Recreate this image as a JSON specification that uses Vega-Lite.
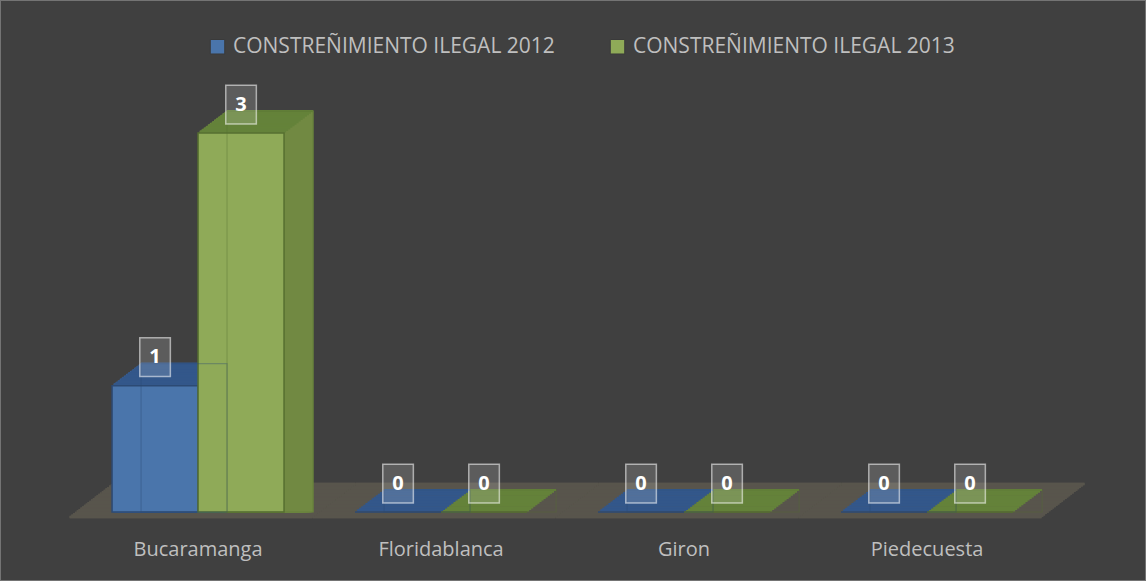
{
  "$schema": "https://vega.github.io/schema/vega-lite/v6.json",
  "width": 1146,
  "height": 581,
  "autosize": "none",
  "padding": 0,
  "background": "#404040",
  "config": {
    "view": {"stroke": "#747474", "strokeWidth": 2},
    "font": "Open Sans",
    "style": {
      "floor": {"strokeWidth": 2.4},
      "side": {"strokeWidth": 1.2},
      "topface": {"strokeWidth": 2.2}
    }
  },
  "data": {
    "values": [
      {"Municipio": "Bucaramanga", "Serie": "CONSTREÑIMIENTO ILEGAL  2012", "Valor": 1},
      {"Municipio": "Bucaramanga", "Serie": "CONSTREÑIMIENTO ILEGAL  2013", "Valor": 3},
      {"Municipio": "Floridablanca", "Serie": "CONSTREÑIMIENTO ILEGAL  2012", "Valor": 0},
      {"Municipio": "Floridablanca", "Serie": "CONSTREÑIMIENTO ILEGAL  2013", "Valor": 0},
      {"Municipio": "Giron", "Serie": "CONSTREÑIMIENTO ILEGAL  2012", "Valor": 0},
      {"Municipio": "Giron", "Serie": "CONSTREÑIMIENTO ILEGAL  2013", "Valor": 0},
      {"Municipio": "Piedecuesta", "Serie": "CONSTREÑIMIENTO ILEGAL  2012", "Valor": 0},
      {"Municipio": "Piedecuesta", "Serie": "CONSTREÑIMIENTO ILEGAL  2013", "Valor": 0}
    ]
  },
  "encoding": {
    "x": {
      "field": "Municipio",
      "type": "nominal",
      "sort": null,
      "scale": {"type": "band", "paddingInner": 0, "paddingOuter": 0.358, "align": 0.44},
      "axis": {"title": null, "orient": "bottom", "offset": -42, "domain": false, "ticks": false, "labelPadding": 0, "labelAngle": 0, "labelFont": "Open Sans", "labelFontSize": 20, "labelColor": "#BFBFBF"}
    }
  },
  "layer": [
    {"mark": {"type": "bar", "style": "floor", "fill": "#58554C", "stroke": "#58554C", "xOffset": -7, "yOffset": 5, "y2Offset": 5}, "encoding": {"y": {"datum": 0, "type": "quantitative", "scale": {"domain": [-0.546, 4.053], "nice": false, "zero": false}, "axis": null}, "y2": {"datum": 0}}},
    {"mark": {"type": "bar", "style": "floor", "fill": "#58554C", "stroke": "#58554C", "xOffset": -5.21, "yOffset": 3.63, "y2Offset": 3.63}, "encoding": {"y": {"datum": 0, "type": "quantitative"}, "y2": {"datum": 0}}},
    {"mark": {"type": "bar", "style": "floor", "fill": "#58554C", "stroke": "#58554C", "xOffset": -3.42, "yOffset": 2.25, "y2Offset": 2.25}, "encoding": {"y": {"datum": 0, "type": "quantitative"}, "y2": {"datum": 0}}},
    {"mark": {"type": "bar", "style": "floor", "fill": "#58554C", "stroke": "#58554C", "xOffset": -1.63, "yOffset": 0.88, "y2Offset": 0.88}, "encoding": {"y": {"datum": 0, "type": "quantitative"}, "y2": {"datum": 0}}},
    {"mark": {"type": "bar", "style": "floor", "fill": "#58554C", "stroke": "#58554C", "xOffset": 0.17, "yOffset": -0.5, "y2Offset": -0.5}, "encoding": {"y": {"datum": 0, "type": "quantitative"}, "y2": {"datum": 0}}},
    {"mark": {"type": "bar", "style": "floor", "fill": "#58554C", "stroke": "#58554C", "xOffset": 1.96, "yOffset": -1.88, "y2Offset": -1.88}, "encoding": {"y": {"datum": 0, "type": "quantitative"}, "y2": {"datum": 0}}},
    {"mark": {"type": "bar", "style": "floor", "fill": "#58554C", "stroke": "#58554C", "xOffset": 3.75, "yOffset": -3.25, "y2Offset": -3.25}, "encoding": {"y": {"datum": 0, "type": "quantitative"}, "y2": {"datum": 0}}},
    {"mark": {"type": "bar", "style": "floor", "fill": "#58554C", "stroke": "#58554C", "xOffset": 5.54, "yOffset": -4.63, "y2Offset": -4.63}, "encoding": {"y": {"datum": 0, "type": "quantitative"}, "y2": {"datum": 0}}},
    {"mark": {"type": "bar", "style": "floor", "fill": "#58554C", "stroke": "#58554C", "xOffset": 7.33, "yOffset": -6, "y2Offset": -6}, "encoding": {"y": {"datum": 0, "type": "quantitative"}, "y2": {"datum": 0}}},
    {"mark": {"type": "bar", "style": "floor", "fill": "#58554C", "stroke": "#58554C", "xOffset": 9.13, "yOffset": -7.38, "y2Offset": -7.38}, "encoding": {"y": {"datum": 0, "type": "quantitative"}, "y2": {"datum": 0}}},
    {"mark": {"type": "bar", "style": "floor", "fill": "#58554C", "stroke": "#58554C", "xOffset": 10.92, "yOffset": -8.75, "y2Offset": -8.75}, "encoding": {"y": {"datum": 0, "type": "quantitative"}, "y2": {"datum": 0}}},
    {"mark": {"type": "bar", "style": "floor", "fill": "#58554C", "stroke": "#58554C", "xOffset": 12.71, "yOffset": -10.13, "y2Offset": -10.13}, "encoding": {"y": {"datum": 0, "type": "quantitative"}, "y2": {"datum": 0}}},
    {"mark": {"type": "bar", "style": "floor", "fill": "#58554C", "stroke": "#58554C", "xOffset": 14.5, "yOffset": -11.5, "y2Offset": -11.5}, "encoding": {"y": {"datum": 0, "type": "quantitative"}, "y2": {"datum": 0}}},
    {"mark": {"type": "bar", "style": "floor", "fill": "#58554C", "stroke": "#58554C", "xOffset": 16.29, "yOffset": -12.88, "y2Offset": -12.88}, "encoding": {"y": {"datum": 0, "type": "quantitative"}, "y2": {"datum": 0}}},
    {"mark": {"type": "bar", "style": "floor", "fill": "#58554C", "stroke": "#58554C", "xOffset": 18.08, "yOffset": -14.25, "y2Offset": -14.25}, "encoding": {"y": {"datum": 0, "type": "quantitative"}, "y2": {"datum": 0}}},
    {"mark": {"type": "bar", "style": "floor", "fill": "#58554C", "stroke": "#58554C", "xOffset": 19.88, "yOffset": -15.63, "y2Offset": -15.63}, "encoding": {"y": {"datum": 0, "type": "quantitative"}, "y2": {"datum": 0}}},
    {"mark": {"type": "bar", "style": "floor", "fill": "#58554C", "stroke": "#58554C", "xOffset": 21.67, "yOffset": -17, "y2Offset": -17}, "encoding": {"y": {"datum": 0, "type": "quantitative"}, "y2": {"datum": 0}}},
    {"mark": {"type": "bar", "style": "floor", "fill": "#58554C", "stroke": "#58554C", "xOffset": 23.46, "yOffset": -18.38, "y2Offset": -18.38}, "encoding": {"y": {"datum": 0, "type": "quantitative"}, "y2": {"datum": 0}}},
    {"mark": {"type": "bar", "style": "floor", "fill": "#58554C", "stroke": "#58554C", "xOffset": 25.25, "yOffset": -19.75, "y2Offset": -19.75}, "encoding": {"y": {"datum": 0, "type": "quantitative"}, "y2": {"datum": 0}}},
    {"mark": {"type": "bar", "style": "floor", "fill": "#58554C", "stroke": "#58554C", "xOffset": 27.04, "yOffset": -21.13, "y2Offset": -21.13}, "encoding": {"y": {"datum": 0, "type": "quantitative"}, "y2": {"datum": 0}}},
    {"mark": {"type": "bar", "style": "floor", "fill": "#58554C", "stroke": "#58554C", "xOffset": 28.83, "yOffset": -22.5, "y2Offset": -22.5}, "encoding": {"y": {"datum": 0, "type": "quantitative"}, "y2": {"datum": 0}}},
    {"mark": {"type": "bar", "style": "floor", "fill": "#58554C", "stroke": "#58554C", "xOffset": 30.63, "yOffset": -23.88, "y2Offset": -23.88}, "encoding": {"y": {"datum": 0, "type": "quantitative"}, "y2": {"datum": 0}}},
    {"mark": {"type": "bar", "style": "floor", "fill": "#58554C", "stroke": "#58554C", "xOffset": 32.42, "yOffset": -25.25, "y2Offset": -25.25}, "encoding": {"y": {"datum": 0, "type": "quantitative"}, "y2": {"datum": 0}}},
    {"mark": {"type": "bar", "style": "floor", "fill": "#58554C", "stroke": "#58554C", "xOffset": 34.21, "yOffset": -26.63, "y2Offset": -26.63}, "encoding": {"y": {"datum": 0, "type": "quantitative"}, "y2": {"datum": 0}}},
    {"mark": {"type": "bar", "style": "floor", "fill": "#58554C", "stroke": "#58554C", "xOffset": 36, "yOffset": -28, "y2Offset": -28}, "encoding": {"y": {"datum": 0, "type": "quantitative"}, "y2": {"datum": 0}}},

    {"transform": [{"filter": "datum.Valor > 0"}], "mark": {"type": "bar", "style": "side", "width": {"band": 0.354}, "xOffset": {"expr": "(indexof(datum.Serie,'2012')>=0 ? -43 : 43) + 2.07"}, "yOffset": -1.57, "y2Offset": -1.57}, "encoding": {"y": {"field": "Valor", "type": "quantitative", "stack": null}, "fill": {"condition": {"test": "indexof(datum.Serie,'2012')>=0", "value": "#3D6397"}, "value": "#718942"}, "stroke": {"condition": {"test": "indexof(datum.Serie,'2012')>=0", "value": "#3D6397"}, "value": "#718942"}}},
    {"transform": [{"filter": "datum.Valor > 0"}], "mark": {"type": "bar", "style": "side", "width": {"band": 0.354}, "xOffset": {"expr": "(indexof(datum.Serie,'2012')>=0 ? -43 : 43) + 4.14"}, "yOffset": -3.14, "y2Offset": -3.14}, "encoding": {"y": {"field": "Valor", "type": "quantitative", "stack": null}, "fill": {"condition": {"test": "indexof(datum.Serie,'2012')>=0", "value": "#3D6397"}, "value": "#718942"}, "stroke": {"condition": {"test": "indexof(datum.Serie,'2012')>=0", "value": "#3D6397"}, "value": "#718942"}}},
    {"transform": [{"filter": "datum.Valor > 0"}], "mark": {"type": "bar", "style": "side", "width": {"band": 0.354}, "xOffset": {"expr": "(indexof(datum.Serie,'2012')>=0 ? -43 : 43) + 6.21"}, "yOffset": -4.71, "y2Offset": -4.71}, "encoding": {"y": {"field": "Valor", "type": "quantitative", "stack": null}, "fill": {"condition": {"test": "indexof(datum.Serie,'2012')>=0", "value": "#3D6397"}, "value": "#718942"}, "stroke": {"condition": {"test": "indexof(datum.Serie,'2012')>=0", "value": "#3D6397"}, "value": "#718942"}}},
    {"transform": [{"filter": "datum.Valor > 0"}], "mark": {"type": "bar", "style": "side", "width": {"band": 0.354}, "xOffset": {"expr": "(indexof(datum.Serie,'2012')>=0 ? -43 : 43) + 8.29"}, "yOffset": -6.29, "y2Offset": -6.29}, "encoding": {"y": {"field": "Valor", "type": "quantitative", "stack": null}, "fill": {"condition": {"test": "indexof(datum.Serie,'2012')>=0", "value": "#3D6397"}, "value": "#718942"}, "stroke": {"condition": {"test": "indexof(datum.Serie,'2012')>=0", "value": "#3D6397"}, "value": "#718942"}}},
    {"transform": [{"filter": "datum.Valor > 0"}], "mark": {"type": "bar", "style": "side", "width": {"band": 0.354}, "xOffset": {"expr": "(indexof(datum.Serie,'2012')>=0 ? -43 : 43) + 10.36"}, "yOffset": -7.86, "y2Offset": -7.86}, "encoding": {"y": {"field": "Valor", "type": "quantitative", "stack": null}, "fill": {"condition": {"test": "indexof(datum.Serie,'2012')>=0", "value": "#3D6397"}, "value": "#718942"}, "stroke": {"condition": {"test": "indexof(datum.Serie,'2012')>=0", "value": "#3D6397"}, "value": "#718942"}}},
    {"transform": [{"filter": "datum.Valor > 0"}], "mark": {"type": "bar", "style": "side", "width": {"band": 0.354}, "xOffset": {"expr": "(indexof(datum.Serie,'2012')>=0 ? -43 : 43) + 12.43"}, "yOffset": -9.43, "y2Offset": -9.43}, "encoding": {"y": {"field": "Valor", "type": "quantitative", "stack": null}, "fill": {"condition": {"test": "indexof(datum.Serie,'2012')>=0", "value": "#3D6397"}, "value": "#718942"}, "stroke": {"condition": {"test": "indexof(datum.Serie,'2012')>=0", "value": "#3D6397"}, "value": "#718942"}}},
    {"transform": [{"filter": "datum.Valor > 0"}], "mark": {"type": "bar", "style": "side", "width": {"band": 0.354}, "xOffset": {"expr": "(indexof(datum.Serie,'2012')>=0 ? -43 : 43) + 14.5"}, "yOffset": -11, "y2Offset": -11}, "encoding": {"y": {"field": "Valor", "type": "quantitative", "stack": null}, "fill": {"condition": {"test": "indexof(datum.Serie,'2012')>=0", "value": "#3D6397"}, "value": "#718942"}, "stroke": {"condition": {"test": "indexof(datum.Serie,'2012')>=0", "value": "#3D6397"}, "value": "#718942"}}},
    {"transform": [{"filter": "datum.Valor > 0"}], "mark": {"type": "bar", "style": "side", "width": {"band": 0.354}, "xOffset": {"expr": "(indexof(datum.Serie,'2012')>=0 ? -43 : 43) + 16.57"}, "yOffset": -12.57, "y2Offset": -12.57}, "encoding": {"y": {"field": "Valor", "type": "quantitative", "stack": null}, "fill": {"condition": {"test": "indexof(datum.Serie,'2012')>=0", "value": "#3D6397"}, "value": "#718942"}, "stroke": {"condition": {"test": "indexof(datum.Serie,'2012')>=0", "value": "#3D6397"}, "value": "#718942"}}},
    {"transform": [{"filter": "datum.Valor > 0"}], "mark": {"type": "bar", "style": "side", "width": {"band": 0.354}, "xOffset": {"expr": "(indexof(datum.Serie,'2012')>=0 ? -43 : 43) + 18.64"}, "yOffset": -14.14, "y2Offset": -14.14}, "encoding": {"y": {"field": "Valor", "type": "quantitative", "stack": null}, "fill": {"condition": {"test": "indexof(datum.Serie,'2012')>=0", "value": "#3D6397"}, "value": "#718942"}, "stroke": {"condition": {"test": "indexof(datum.Serie,'2012')>=0", "value": "#3D6397"}, "value": "#718942"}}},
    {"transform": [{"filter": "datum.Valor > 0"}], "mark": {"type": "bar", "style": "side", "width": {"band": 0.354}, "xOffset": {"expr": "(indexof(datum.Serie,'2012')>=0 ? -43 : 43) + 20.71"}, "yOffset": -15.71, "y2Offset": -15.71}, "encoding": {"y": {"field": "Valor", "type": "quantitative", "stack": null}, "fill": {"condition": {"test": "indexof(datum.Serie,'2012')>=0", "value": "#3D6397"}, "value": "#718942"}, "stroke": {"condition": {"test": "indexof(datum.Serie,'2012')>=0", "value": "#3D6397"}, "value": "#718942"}}},
    {"transform": [{"filter": "datum.Valor > 0"}], "mark": {"type": "bar", "style": "side", "width": {"band": 0.354}, "xOffset": {"expr": "(indexof(datum.Serie,'2012')>=0 ? -43 : 43) + 22.79"}, "yOffset": -17.29, "y2Offset": -17.29}, "encoding": {"y": {"field": "Valor", "type": "quantitative", "stack": null}, "fill": {"condition": {"test": "indexof(datum.Serie,'2012')>=0", "value": "#3D6397"}, "value": "#718942"}, "stroke": {"condition": {"test": "indexof(datum.Serie,'2012')>=0", "value": "#3D6397"}, "value": "#718942"}}},
    {"transform": [{"filter": "datum.Valor > 0"}], "mark": {"type": "bar", "style": "side", "width": {"band": 0.354}, "xOffset": {"expr": "(indexof(datum.Serie,'2012')>=0 ? -43 : 43) + 24.86"}, "yOffset": -18.86, "y2Offset": -18.86}, "encoding": {"y": {"field": "Valor", "type": "quantitative", "stack": null}, "fill": {"condition": {"test": "indexof(datum.Serie,'2012')>=0", "value": "#3D6397"}, "value": "#718942"}, "stroke": {"condition": {"test": "indexof(datum.Serie,'2012')>=0", "value": "#3D6397"}, "value": "#718942"}}},
    {"transform": [{"filter": "datum.Valor > 0"}], "mark": {"type": "bar", "style": "side", "width": {"band": 0.354}, "xOffset": {"expr": "(indexof(datum.Serie,'2012')>=0 ? -43 : 43) + 26.93"}, "yOffset": -20.43, "y2Offset": -20.43}, "encoding": {"y": {"field": "Valor", "type": "quantitative", "stack": null}, "fill": {"condition": {"test": "indexof(datum.Serie,'2012')>=0", "value": "#3D6397"}, "value": "#718942"}, "stroke": {"condition": {"test": "indexof(datum.Serie,'2012')>=0", "value": "#3D6397"}, "value": "#718942"}}},
    {"transform": [{"filter": "datum.Valor > 0"}], "mark": {"type": "bar", "style": "side", "width": {"band": 0.354}, "xOffset": {"expr": "(indexof(datum.Serie,'2012')>=0 ? -43 : 43) + 29"}, "yOffset": -22, "y2Offset": -22}, "encoding": {"y": {"field": "Valor", "type": "quantitative", "stack": null}, "fill": {"condition": {"test": "indexof(datum.Serie,'2012')>=0", "value": "#3D6397"}, "value": "#718942"}, "stroke": {"condition": {"test": "indexof(datum.Serie,'2012')>=0", "value": "#3D6397"}, "value": "#718942"}}},

    {"mark": {"type": "bar", "style": "topface", "width": {"band": 0.354}, "xOffset": {"expr": "(indexof(datum.Serie,'2012')>=0 ? -43 : 43) + 2.07"}, "yOffset": -1.57, "y2Offset": -1.57}, "encoding": {"y": {"field": "Valor", "type": "quantitative", "stack": null}, "y2": {"field": "Valor"}, "fill": {"condition": {"test": "indexof(datum.Serie,'2012')>=0", "value": "#33578A"}, "value": "#64823A"}, "stroke": {"condition": {"test": "indexof(datum.Serie,'2012')>=0", "value": "#33578A"}, "value": "#64823A"}}},
    {"mark": {"type": "bar", "style": "topface", "width": {"band": 0.354}, "xOffset": {"expr": "(indexof(datum.Serie,'2012')>=0 ? -43 : 43) + 4.14"}, "yOffset": -3.14, "y2Offset": -3.14}, "encoding": {"y": {"field": "Valor", "type": "quantitative", "stack": null}, "y2": {"field": "Valor"}, "fill": {"condition": {"test": "indexof(datum.Serie,'2012')>=0", "value": "#33578A"}, "value": "#64823A"}, "stroke": {"condition": {"test": "indexof(datum.Serie,'2012')>=0", "value": "#33578A"}, "value": "#64823A"}}},
    {"mark": {"type": "bar", "style": "topface", "width": {"band": 0.354}, "xOffset": {"expr": "(indexof(datum.Serie,'2012')>=0 ? -43 : 43) + 6.21"}, "yOffset": -4.71, "y2Offset": -4.71}, "encoding": {"y": {"field": "Valor", "type": "quantitative", "stack": null}, "y2": {"field": "Valor"}, "fill": {"condition": {"test": "indexof(datum.Serie,'2012')>=0", "value": "#33578A"}, "value": "#64823A"}, "stroke": {"condition": {"test": "indexof(datum.Serie,'2012')>=0", "value": "#33578A"}, "value": "#64823A"}}},
    {"mark": {"type": "bar", "style": "topface", "width": {"band": 0.354}, "xOffset": {"expr": "(indexof(datum.Serie,'2012')>=0 ? -43 : 43) + 8.29"}, "yOffset": -6.29, "y2Offset": -6.29}, "encoding": {"y": {"field": "Valor", "type": "quantitative", "stack": null}, "y2": {"field": "Valor"}, "fill": {"condition": {"test": "indexof(datum.Serie,'2012')>=0", "value": "#33578A"}, "value": "#64823A"}, "stroke": {"condition": {"test": "indexof(datum.Serie,'2012')>=0", "value": "#33578A"}, "value": "#64823A"}}},
    {"mark": {"type": "bar", "style": "topface", "width": {"band": 0.354}, "xOffset": {"expr": "(indexof(datum.Serie,'2012')>=0 ? -43 : 43) + 10.36"}, "yOffset": -7.86, "y2Offset": -7.86}, "encoding": {"y": {"field": "Valor", "type": "quantitative", "stack": null}, "y2": {"field": "Valor"}, "fill": {"condition": {"test": "indexof(datum.Serie,'2012')>=0", "value": "#33578A"}, "value": "#64823A"}, "stroke": {"condition": {"test": "indexof(datum.Serie,'2012')>=0", "value": "#33578A"}, "value": "#64823A"}}},
    {"mark": {"type": "bar", "style": "topface", "width": {"band": 0.354}, "xOffset": {"expr": "(indexof(datum.Serie,'2012')>=0 ? -43 : 43) + 12.43"}, "yOffset": -9.43, "y2Offset": -9.43}, "encoding": {"y": {"field": "Valor", "type": "quantitative", "stack": null}, "y2": {"field": "Valor"}, "fill": {"condition": {"test": "indexof(datum.Serie,'2012')>=0", "value": "#33578A"}, "value": "#64823A"}, "stroke": {"condition": {"test": "indexof(datum.Serie,'2012')>=0", "value": "#33578A"}, "value": "#64823A"}}},
    {"mark": {"type": "bar", "style": "topface", "width": {"band": 0.354}, "xOffset": {"expr": "(indexof(datum.Serie,'2012')>=0 ? -43 : 43) + 14.5"}, "yOffset": -11, "y2Offset": -11}, "encoding": {"y": {"field": "Valor", "type": "quantitative", "stack": null}, "y2": {"field": "Valor"}, "fill": {"condition": {"test": "indexof(datum.Serie,'2012')>=0", "value": "#33578A"}, "value": "#64823A"}, "stroke": {"condition": {"test": "indexof(datum.Serie,'2012')>=0", "value": "#33578A"}, "value": "#64823A"}}},
    {"mark": {"type": "bar", "style": "topface", "width": {"band": 0.354}, "xOffset": {"expr": "(indexof(datum.Serie,'2012')>=0 ? -43 : 43) + 16.57"}, "yOffset": -12.57, "y2Offset": -12.57}, "encoding": {"y": {"field": "Valor", "type": "quantitative", "stack": null}, "y2": {"field": "Valor"}, "fill": {"condition": {"test": "indexof(datum.Serie,'2012')>=0", "value": "#33578A"}, "value": "#64823A"}, "stroke": {"condition": {"test": "indexof(datum.Serie,'2012')>=0", "value": "#33578A"}, "value": "#64823A"}}},
    {"mark": {"type": "bar", "style": "topface", "width": {"band": 0.354}, "xOffset": {"expr": "(indexof(datum.Serie,'2012')>=0 ? -43 : 43) + 18.64"}, "yOffset": -14.14, "y2Offset": -14.14}, "encoding": {"y": {"field": "Valor", "type": "quantitative", "stack": null}, "y2": {"field": "Valor"}, "fill": {"condition": {"test": "indexof(datum.Serie,'2012')>=0", "value": "#33578A"}, "value": "#64823A"}, "stroke": {"condition": {"test": "indexof(datum.Serie,'2012')>=0", "value": "#33578A"}, "value": "#64823A"}}},
    {"mark": {"type": "bar", "style": "topface", "width": {"band": 0.354}, "xOffset": {"expr": "(indexof(datum.Serie,'2012')>=0 ? -43 : 43) + 20.71"}, "yOffset": -15.71, "y2Offset": -15.71}, "encoding": {"y": {"field": "Valor", "type": "quantitative", "stack": null}, "y2": {"field": "Valor"}, "fill": {"condition": {"test": "indexof(datum.Serie,'2012')>=0", "value": "#33578A"}, "value": "#64823A"}, "stroke": {"condition": {"test": "indexof(datum.Serie,'2012')>=0", "value": "#33578A"}, "value": "#64823A"}}},
    {"mark": {"type": "bar", "style": "topface", "width": {"band": 0.354}, "xOffset": {"expr": "(indexof(datum.Serie,'2012')>=0 ? -43 : 43) + 22.79"}, "yOffset": -17.29, "y2Offset": -17.29}, "encoding": {"y": {"field": "Valor", "type": "quantitative", "stack": null}, "y2": {"field": "Valor"}, "fill": {"condition": {"test": "indexof(datum.Serie,'2012')>=0", "value": "#33578A"}, "value": "#64823A"}, "stroke": {"condition": {"test": "indexof(datum.Serie,'2012')>=0", "value": "#33578A"}, "value": "#64823A"}}},
    {"mark": {"type": "bar", "style": "topface", "width": {"band": 0.354}, "xOffset": {"expr": "(indexof(datum.Serie,'2012')>=0 ? -43 : 43) + 24.86"}, "yOffset": -18.86, "y2Offset": -18.86}, "encoding": {"y": {"field": "Valor", "type": "quantitative", "stack": null}, "y2": {"field": "Valor"}, "fill": {"condition": {"test": "indexof(datum.Serie,'2012')>=0", "value": "#33578A"}, "value": "#64823A"}, "stroke": {"condition": {"test": "indexof(datum.Serie,'2012')>=0", "value": "#33578A"}, "value": "#64823A"}}},
    {"mark": {"type": "bar", "style": "topface", "width": {"band": 0.354}, "xOffset": {"expr": "(indexof(datum.Serie,'2012')>=0 ? -43 : 43) + 26.93"}, "yOffset": -20.43, "y2Offset": -20.43}, "encoding": {"y": {"field": "Valor", "type": "quantitative", "stack": null}, "y2": {"field": "Valor"}, "fill": {"condition": {"test": "indexof(datum.Serie,'2012')>=0", "value": "#33578A"}, "value": "#64823A"}, "stroke": {"condition": {"test": "indexof(datum.Serie,'2012')>=0", "value": "#33578A"}, "value": "#64823A"}}},
    {"mark": {"type": "bar", "style": "topface", "width": {"band": 0.354}, "xOffset": {"expr": "(indexof(datum.Serie,'2012')>=0 ? -43 : 43) + 29"}, "yOffset": -22, "y2Offset": -22}, "encoding": {"y": {"field": "Valor", "type": "quantitative", "stack": null}, "y2": {"field": "Valor"}, "fill": {"condition": {"test": "indexof(datum.Serie,'2012')>=0", "value": "#33578A"}, "value": "#64823A"}, "stroke": {"condition": {"test": "indexof(datum.Serie,'2012')>=0", "value": "#33578A"}, "value": "#64823A"}}},

    {"mark": {"type": "bar", "strokeWidth": 1.5}, "encoding": {
      "xOffset": {"field": "Serie", "type": "nominal", "scale": {"paddingOuter": 0.413, "paddingInner": 0}},
      "y": {"field": "Valor", "type": "quantitative", "stack": null},
      "color": {"field": "Serie", "type": "nominal", "scale": {"range": ["#4A75AB", "#8FAA58"]},
        "legend": {"title": null, "orient": "none", "legendX": 207, "legendY": 36, "direction": "horizontal", "padding": 0, "symbolType": "square", "symbolSize": 210, "symbolStrokeWidth": 1, "symbolStrokeColor": "#3A3A3A", "symbolOpacity": 1, "labelFont": "Open Sans", "labelFontSize": 21, "labelColor": "#BFBFBF", "labelLimit": 0, "labelOffset": 5, "columnPadding": 46}},
      "stroke": {"condition": {"test": "indexof(datum.Serie,'2012')>=0", "value": "#2C4A74"}, "value": "#566F30"}}},
    {"mark": {"type": "bar", "width": {"band": 0.354}, "xOffset": {"expr": "(indexof(datum.Serie,'2012')>=0 ? -43 : 43) + 29"}, "yOffset": -22, "y2Offset": -22, "fillOpacity": 0, "strokeWidth": 1.2, "strokeOpacity": 0.35}, "encoding": {
      "y": {"field": "Valor", "type": "quantitative", "stack": null},
      "stroke": {"condition": {"test": "indexof(datum.Serie,'2012')>=0", "value": "#2C4A74"}, "value": "#566F30"}}},
    {"mark": {"type": "point", "shape": "M-0.79,-1H0.79V1H-0.79Z", "size": 1500, "filled": true, "fill": "#FFFFFF", "fillOpacity": 0.15, "stroke": "#FFFFFF", "strokeOpacity": 0.55, "strokeWidth": 1.5, "yOffset": -28.5}, "encoding": {
      "xOffset": {"field": "Serie", "type": "nominal"},
      "y": {"field": "Valor", "type": "quantitative"}}},
    {"mark": {"type": "text", "font": "Open Sans", "fontSize": 20, "fontWeight": "bold", "color": "#FFFFFF", "baseline": "middle", "align": "center", "yOffset": -28.5}, "encoding": {
      "xOffset": {"field": "Serie", "type": "nominal"},
      "y": {"field": "Valor", "type": "quantitative"},
      "text": {"field": "Valor", "type": "quantitative"}}}
  ]
}
